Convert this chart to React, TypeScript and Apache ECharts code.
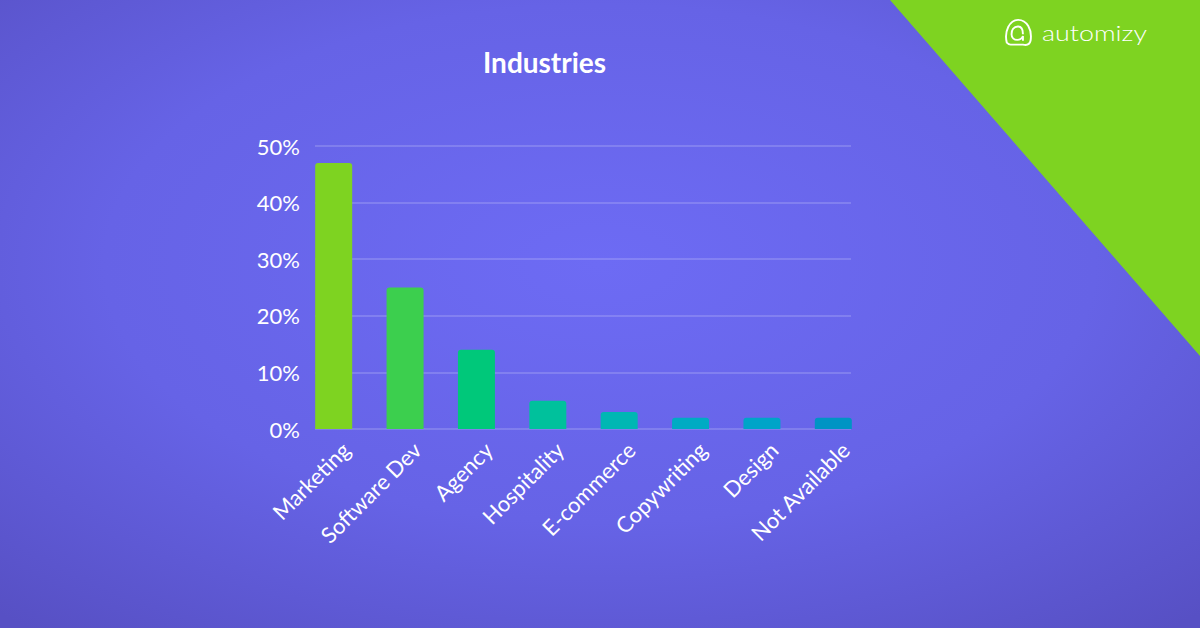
import React, { useEffect, useRef } from "react";
import * as echarts from "echarts";

const categories = ["Marketing", "Software Dev", "Agency", "Hospitality", "E-commerce", "Copywriting", "Design", "Not Available"];
const values = [47, 25, 14, 5, 3, 2, 2, 2];
const barColors = ["#7ed321", "#3ccf4e", "#00c87a", "#00c19c", "#00b7b3", "#00abc3", "#00a4c8", "#0094c4"];
const yTicks = [0, 10, 20, 30, 40, 50];

const logoD =
  "M4,26 C1,14 7,2 16,2 C25,2 31,12 29,24 C28,28 25,29 21,28 L8,28 C6,28 5,27 4,26 Z M16,9 C11,9 9,13 9,17 C9,21 12,23 15,23 C18,23 20,21 21,19 L21,24 M21,17 C21,12 19,9 16,9";

let registered = false;

export default function App() {
  const ref = useRef<HTMLDivElement>(null);
  useEffect(() => {
    document.body.style.margin = "0";
    if (!registered) {
      echarts.graphic.registerShape("logo", echarts.graphic.extendPath(logoD, {}));
      registered = true;
    }
    const chart = echarts.init(ref.current!, null, { renderer: "svg" });
    chart.setOption({
      animation: false,
      title: {
        text: "Industries",
        left: 478,
        top: 43,
        textStyle: { color: "#ffffff", fontSize: 28, fontWeight: "bold", fontFamily: "Lato" },
      },
      graphic: [
        {
          type: "rect",
          z: -100,
          shape: { x: 0, y: 0, width: 1200, height: 628 },
          style: {
            fill: new echarts.graphic.RadialGradient(0.5, 0.42, 0.75, [
              { offset: 0, color: "#6d6bf4" },
              { offset: 0.55, color: "#6663e6" },
              { offset: 1, color: "#5750c4" },
            ]),
          },
        },
        {
          type: "polygon",
          z: -99,
          shape: { points: [[890, 0], [1200, 0], [1200, 356]] },
          style: { fill: "#7ed321" },
        },
        {
          type: "logo",
          z: 100,
          x: 1003,
          y: 18,
          scaleX: 0.95,
          scaleY: 0.95,
          style: { fill: "none", stroke: "#ffffff", lineWidth: 2 },
        },
        {
          type: "text",
          z: 100,
          x: 1042,
          y: 33,
          scaleX: 1.28,
          style: {
            text: "automizy",
            fill: "#ffffff",
            font: "300 21px Lato",
            textVerticalAlign: "middle",
          },
        },
      ],
      grid: [
        { left: 298, right: 331, top: 146, bottom: 199 },
        { left: 315, right: 349, top: 146, bottom: 199 },
      ],
      xAxis: [
        {
          type: "category",
          gridIndex: 0,
          data: categories,
          axisLine: { show: false },
          axisTick: { show: false },
          axisLabel: {
            rotate: 45,
            color: "#ffffff",
            fontSize: 22,
            fontFamily: "Lato",
            margin: 29,
            padding: [0, -17, 0, 0],
            interval: 0,
          },
        },
        { type: "value", gridIndex: 1, min: 0, max: 1, show: false },
      ],
      yAxis: [
        { type: "value", gridIndex: 0, min: 0, max: 50, interval: 10, show: false, splitLine: { show: false } },
        {
          type: "value",
          gridIndex: 1,
          min: 0,
          max: 50,
          interval: 10,
          axisLine: { show: false },
          axisTick: { show: false },
          splitLine: { lineStyle: { color: "rgba(255,255,255,0.22)", width: 1.5 } },
          axisLabel: {
            formatter: "{value}%",
            color: "#ffffff",
            fontSize: 22,
            fontFamily: "Lato",
            margin: 15,
          },
        },
      ],
      series: [
        {
          type: "bar",
          xAxisIndex: 0,
          yAxisIndex: 0,
          barWidth: 37,
          z: 3,
          data: values.map((v, i) => ({ value: v, itemStyle: { color: barColors[i], borderRadius: [3, 3, 0, 0] } })),
        },
      ],
    });
    return () => chart.dispose();
  }, []);
  return <div ref={ref} style={{ width: 1200, height: 628 }} />;
}
